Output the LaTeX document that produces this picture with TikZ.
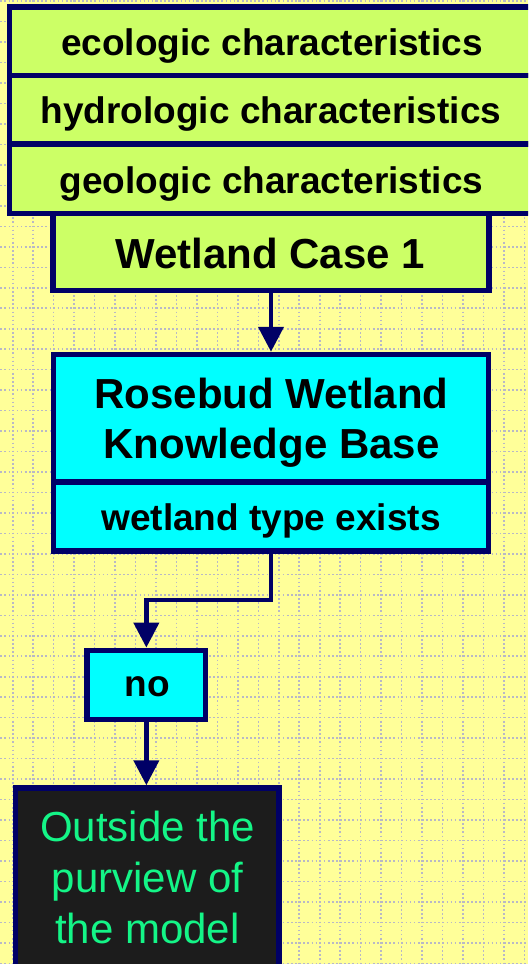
\documentclass[tikz,border=0pt]{standalone}
\usepackage{fontspec}
\setmainfont{Liberation Sans}
\usetikzlibrary{arrows.meta}

\definecolor{paper}{RGB}{255,255,153}
\definecolor{gridgray}{RGB}{184,184,198}
\definecolor{navyline}{RGB}{0,0,102}
\definecolor{limefill}{RGB}{204,255,102}
\definecolor{aquafill}{RGB}{0,255,255}
\definecolor{charcoal}{RGB}{28,28,28}
\definecolor{mint}{RGB}{20,245,135}

\tikzset{
  griddots/.style={draw=gridgray, line width=1.6pt,
    dash pattern=on 1.6pt off 2.494pt, dash phase=3.694pt},
  panel/.style={draw=navyline, line width=5.5pt, rectangle, inner sep=0pt},
  limebox/.style={panel, fill=limefill},
  aquabox/.style={panel, fill=aquafill},
  darkbox/.style={panel, fill=charcoal},
  boldtext/.style={font=\fontsize{37}{44}\selectfont\bfseries, text=black,
    anchor=base, inner sep=0pt},
  bigbold/.style={font=\fontsize{42}{50}\selectfont\bfseries, text=black,
    anchor=base, inner sep=0pt, align=center},
  notetext/.style={font=\fontsize{42}{50.8}\selectfont, text=mint,
    anchor=base, inner sep=0pt, align=center},
  conn/.style={draw=navyline, line width=4.4pt,
    -{Triangle[width=25pt,length=25pt]}},
}

\begin{document}
\begin{tikzpicture}[x=1pt, y=-1pt]
  \useasboundingbox (0,0) rectangle (528,964);
  \clip (0,0) rectangle (528,964);

  % paper with dotted grid
  \fill[paper] (0,0) rectangle (528,964);
  \foreach \k in {0,...,25}
    \draw[griddots] ({12.7+20.47*\k},0) -- ({12.7+20.47*\k},964);
  \foreach \k in {0,...,47}
    \draw[griddots] (0,{1.2+20.47*\k}) -- (528,{1.2+20.47*\k});

  % input case: stacked characteristics over the case box
  \node[limebox, minimum width=436pt, minimum height=76.8pt] (case) at (271,251.9) {};
  \node[limebox, minimum width=523pt, minimum height=68.3pt] (eco) at (271,41.35) {};
  \node[limebox, minimum width=523pt, minimum height=68.5pt] (hydro) at (271,109.75) {};
  \node[limebox, minimum width=523pt, minimum height=69.5pt] (geo) at (271,178.75) {};

  % knowledge base
  \node[aquabox, minimum width=435.2pt, minimum height=127.5pt] (kb) at (271.1,418.25) {};
  \node[aquabox, minimum width=435.2pt, minimum height=69pt] (exists) at (271.1,516.5) {};

  % answer and outcome
  \node[aquabox, minimum width=118.7pt, minimum height=69.4pt] (no) at (146.35,685) {};
  \node[darkbox, minimum width=263.3pt, minimum height=192pt] (outside) at (147.15,884) {};

  % connectors
  \coordinate (bend) at (271.1,600);
  \draw[conn] (case.south) -- (case.south |- kb.north);
  \draw[conn] (exists.south) -- (exists.south |- bend) -| (no.north);
  \draw[conn] (no.south) -- (no.south |- outside.north);

  % labels (multi-line nodes sit on the baseline of their last line)
  \node[boldtext] (t-eco) at (272,55) {ecologic characteristics};
  \node[boldtext] (t-hydro) at (271,123.5) {hydrologic characteristics};
  \node[boldtext] (t-geo) at (271.5,193.3) {geologic characteristics};
  \node[bigbold] (t-case) at (270,268.3) {Wetland Case 1};
  \node[bigbold] (t-kb) at (271.5,458.3) {Rosebud Wetland\\Knowledge Base};
  \node[boldtext] (t-exists) at (271,530) {wetland type exists};
  \node[boldtext] (t-no) at (147.5,696.7) {no};
  \node[notetext] (t-outside) at (147.5,943.3) {Outside the\\purview of\\the model};
\end{tikzpicture}
\end{document}
